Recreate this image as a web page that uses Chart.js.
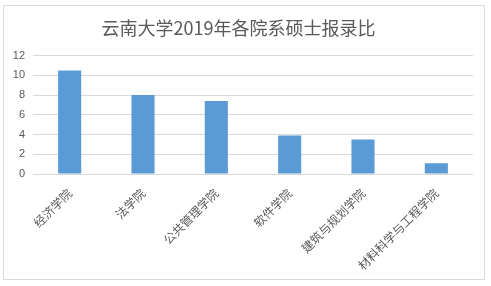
<!DOCTYPE html>
<html>
<head>
<meta charset="utf-8">
<script src="https://cdn.jsdelivr.net/npm/chart.js@4/dist/chart.umd.min.js"></script>
<style>
  body { margin: 0; background: #fff; }
  #box {
    position: absolute; left: 3px; top: 5px;
    width: 480px; height: 273px;
    border: 1px solid #d9d9d9;
  }
</style>
</head>
<body>
<div id="box"><canvas id="myChart"></canvas></div>
<script>
// Chart data
const titleText = '云南大学2019年各院系硕士报录比';
const colleges = ['经济学院', '法学院', '公共管理学院', '软件学院', '建筑与规划学院', '材料科学与工程学院'];
const ratios = [10.5, 8.0, 7.4, 3.9, 3.5, 1.1];
const yTicks = [0, 2, 4, 6, 8, 10, 12];

const font = "'Noto Sans CJK SC', 'Microsoft YaHei', sans-serif";

window.onload = function() {
  const ctx = document.getElementById('myChart').getContext('2d');
  new Chart(ctx, {
    type: 'bar',
    data: {
      labels: colleges,
      datasets: [{
        data: ratios,
        backgroundColor: '#5b9bd5',
        categoryPercentage: 1,
        barPercentage: 0.315
      }]
    },
    options: {
      responsive: true,
      maintainAspectRatio: false,
      animation: false,
      layout: { padding: { left: 0, right: 11, top: 0, bottom: 0 } },
      plugins: {
        legend: { display: false },
        tooltip: { enabled: false },
        title: {
          display: true,
          text: titleText,
          color: '#595959',
          font: { family: font, size: 18, weight: 'normal' },
          padding: { top: 11, bottom: 17 }
        }
      },
      scales: {
        x: {
          grid: { display: false },
          border: { display: false },
          ticks: {
            color: '#595959',
            font: { family: font, size: 12 },
            minRotation: 45,
            maxRotation: 45,
            padding: 4
          },
          afterFit: function(scale) { scale.height = 105; }
        },
        y: {
          min: 0,
          max: 12,
          afterBuildTicks: function(scale) {
            scale.ticks = yTicks.map(v => ({ value: v }));
          },
          grid: { color: '#d9d9d9', drawTicks: false },
          border: { display: false },
          ticks: {
            color: '#595959',
            font: { family: 'Liberation Sans, sans-serif', size: 11 },
            padding: 8
          },
          afterFit: function(scale) { scale.width = 29; }
        }
      }
    }
  });
};
</script>
</body>
</html>
